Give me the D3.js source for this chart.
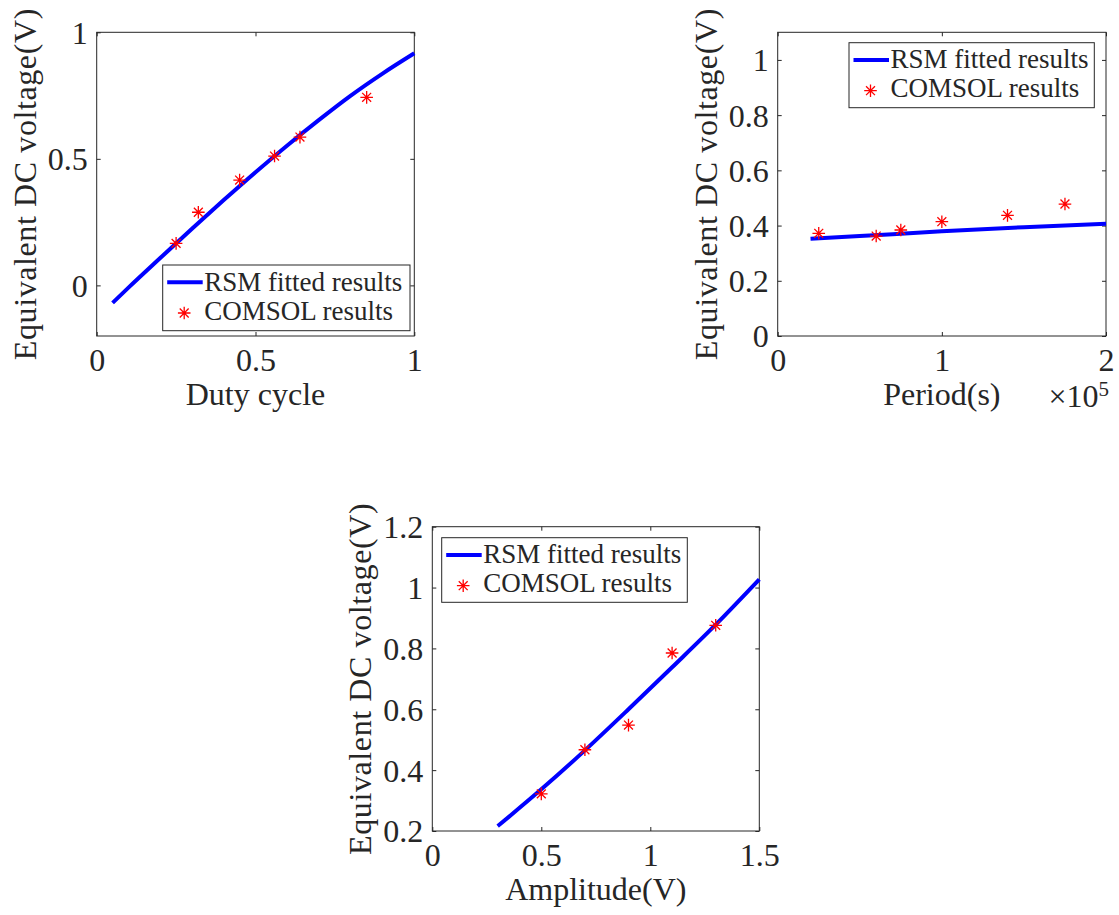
<!DOCTYPE html>
<html>
<head>
<meta charset="utf-8">
<script src="https://cdn.jsdelivr.net/npm/d3@7"></script>
<style>
  html, body { margin: 0; padding: 0; background: #ffffff; }
  svg { display: block; }
  text { font-family: "Liberation Serif", "DejaVu Serif", serif; fill: #262626; }
</style>
</head>
<body>
<svg id="chart" width="1119" height="915"></svg>
<script>
// ---------- Data ----------
// Panel 1: Duty cycle
const dutyCurveX = [0.05, 0.1, 0.2, 0.3, 0.4, 0.5, 0.6, 0.7, 0.8, 0.9, 1.0];
const dutyCurveY = [-0.069, -0.009, 0.108, 0.224, 0.337, 0.447, 0.553, 0.654, 0.75, 0.837, 0.917];
const dutyPointsX = [0.25, 0.32, 0.45, 0.56, 0.64, 0.85];
const dutyPointsY = [0.166, 0.289, 0.416, 0.511, 0.586, 0.743];
const dutyXTicks = [0, 0.5, 1];
const dutyYTicks = [0, 0.5, 1];

// Panel 2: Period
const periodCurveX = [20000, 50000, 100000, 150000, 200000];
const periodCurveY = [0.352, 0.362, 0.379, 0.394, 0.407];
const periodPointsX = [25000, 60000, 75000, 100000, 140000, 175000];
const periodPointsY = [0.372, 0.362, 0.384, 0.414, 0.437, 0.478];
const periodXTicks = [0, 100000, 200000];
const periodXTickLabels = ["0", "1", "2"];
const periodYTicks = [0, 0.2, 0.4, 0.6, 0.8, 1];

// Panel 3: Amplitude
const ampCurveX = [0.3, 0.5, 0.7, 0.9, 1.1, 1.3, 1.5];
const ampCurveY = [0.216, 0.337, 0.465, 0.600, 0.738, 0.878, 1.027];
const ampPointsX = [0.5, 0.7, 0.9, 1.1, 1.3];
const ampPointsY = [0.322, 0.467, 0.548, 0.785, 0.876];
const ampXTicks = [0, 0.5, 1, 1.5];
const ampYTicks = [0.2, 0.4, 0.6, 0.8, 1, 1.2];

const seriesNames = ["RSM fitted results", "COMSOL results"];
const yLabelText = "Equivalent DC voltage(V)";

// ---------- Styles ----------
const FONT = '"Liberation Serif", "DejaVu Serif", serif';
const AXIS_COLOR = "#262626";
const LINE_COLOR = "#0000ff";
const MARK_COLOR = "#ff0000";
const AXIS_FONT = 32;
const LEGEND_FONT = 27;
const TICK_LEN = 4;

const svg = d3.select("#chart");

function asterisk(g, cx, cy, r) {
  const d = r * Math.SQRT1_2;
  const p = d3.path();
  p.moveTo(cx - r, cy); p.lineTo(cx + r, cy);
  p.moveTo(cx, cy - r); p.lineTo(cx, cy + r);
  p.moveTo(cx - d, cy - d); p.lineTo(cx + d, cy + d);
  p.moveTo(cx - d, cy + d); p.lineTo(cx + d, cy - d);
  g.append("path").attr("d", p.toString())
    .attr("stroke", MARK_COLOR).attr("stroke-width", 1.3).attr("fill", "none");
}

function panel(cfg) {
  const g = svg.append("g").attr("font-family", FONT);
  const x = d3.scaleLinear().domain(cfg.xDomain).range([cfg.left, cfg.right]);
  const y = d3.scaleLinear().domain(cfg.yDomain).range([cfg.bottom, cfg.top]);

  const fmt = v => String(v);
  const xAxisB = d3.axisBottom(x).tickValues(cfg.xTicks).tickSize(-TICK_LEN).tickPadding(0)
    .tickFormat((d, i) => cfg.xTickLabels ? cfg.xTickLabels[i] : fmt(d));
  const xAxisT = d3.axisTop(x).tickValues(cfg.xTicks).tickSize(-TICK_LEN).tickFormat("");
  const yAxisL = d3.axisLeft(y).tickValues(cfg.yTicks).tickSize(-TICK_LEN).tickPadding(0).tickFormat(fmt);
  const yAxisR = d3.axisRight(y).tickValues(cfg.yTicks).tickSize(-TICK_LEN).tickFormat("");

  const gxb = g.append("g").attr("transform", `translate(0,${cfg.bottom})`).call(xAxisB);
  const gxt = g.append("g").attr("transform", `translate(0,${cfg.top})`).call(xAxisT);
  const gyl = g.append("g").attr("transform", `translate(${cfg.left},0)`).call(yAxisL);
  const gyr = g.append("g").attr("transform", `translate(${cfg.right},0)`).call(yAxisR);
  [gxb, gxt, gyl, gyr].forEach(a => {
    a.attr("font-family", FONT).attr("font-size", AXIS_FONT);
    a.select(".domain").remove();
    a.selectAll(".tick line").attr("stroke", AXIS_COLOR).attr("stroke-width", 1);
    a.selectAll("text").attr("fill", AXIS_COLOR).style("font-family", FONT)
      .attr("font-size", AXIS_FONT);
  });
  gxb.selectAll(".tick text").attr("y", 35).attr("dy", null);
  gyl.selectAll(".tick text").attr("x", -9).attr("dy", "0.34em");

  // box
  g.append("rect").attr("x", cfg.left).attr("y", cfg.top)
    .attr("width", cfg.right - cfg.left).attr("height", cfg.bottom - cfg.top)
    .attr("fill", "none").attr("stroke", AXIS_COLOR).attr("stroke-width", 1);

  // fitted curve
  const pts = cfg.curveX.map((v, i) => [v, cfg.curveY[i]]);
  const line = d3.line().x(d => x(d[0])).y(d => y(d[1])).curve(d3.curveMonotoneX);
  g.append("path").attr("d", line(pts)).attr("fill", "none")
    .attr("stroke", LINE_COLOR).attr("stroke-width", 4);

  // COMSOL points
  const mg = g.append("g");
  cfg.pointsX.forEach((v, i) => asterisk(mg, x(v), y(cfg.pointsY[i]), 6.3));

  // x label
  g.append("text").attr("x", (cfg.left + cfg.right) / 2).attr("y", cfg.bottom + 69)
    .attr("text-anchor", "middle").attr("font-size", AXIS_FONT).text(cfg.xLabel);
  // y label
  const yc = (cfg.top + cfg.bottom) / 2;
  g.append("text").attr("transform", `translate(${cfg.left - 61},${yc}) rotate(-90)`)
    .attr("text-anchor", "middle").attr("font-size", AXIS_FONT)
    .attr("letter-spacing", 0.6).text(yLabelText);

  // legend
  const L = cfg.legend;
  const lg = g.append("g");
  lg.append("rect").attr("x", L.x).attr("y", L.y).attr("width", L.w).attr("height", L.h)
    .attr("fill", "#ffffff").attr("stroke", AXIS_COLOR).attr("stroke-width", 1);
  lg.append("line").attr("x1", L.x + 4.5).attr("x2", L.x + 40)
    .attr("y1", L.y + 17.3).attr("y2", L.y + 17.3)
    .attr("stroke", LINE_COLOR).attr("stroke-width", 4);
  asterisk(lg, L.x + 21.5, L.y + 48, 6.3);
  lg.append("text").attr("x", L.x + 41.5).attr("y", L.y + 25.5)
    .attr("font-size", LEGEND_FONT).text(seriesNames[0]);
  lg.append("text").attr("x", L.x + 41.5).attr("y", L.y + 54.5)
    .attr("font-size", LEGEND_FONT).text(seriesNames[1]);
  return { g, x, y };
}

panel({
  left: 96.7, right: 414.3, top: 32.3, bottom: 336,
  xDomain: [0, 1], yDomain: [-0.2, 1],
  xTicks: dutyXTicks, yTicks: dutyYTicks,
  curveX: dutyCurveX, curveY: dutyCurveY,
  pointsX: dutyPointsX, pointsY: dutyPointsY,
  xLabel: "Duty cycle",
  legend: { x: 162.7, y: 265, w: 247.3, h: 65.7 }
});

const p2 = panel({
  left: 777.7, right: 1106, top: 32.3, bottom: 336,
  xDomain: [0, 200000], yDomain: [0, 1.1],
  xTicks: periodXTicks, xTickLabels: periodXTickLabels, yTicks: periodYTicks,
  curveX: periodCurveX, curveY: periodCurveY,
  pointsX: periodPointsX, pointsY: periodPointsY,
  xLabel: "Period(s)",
  legend: { x: 849, y: 42.7, w: 245.3, h: 65 }
});
// exponent label for period axis
const expText = p2.g.append("text").attr("x", 1109).attr("y", 407)
  .attr("text-anchor", "end").attr("font-size", AXIS_FONT);
expText.append("tspan").text("\u00d710");
expText.append("tspan").attr("font-size", 21).attr("dy", -11).text("5");

panel({
  left: 432.3, right: 759.3, top: 526.7, bottom: 831,
  xDomain: [0, 1.5], yDomain: [0.2, 1.2],
  xTicks: ampXTicks, yTicks: ampYTicks,
  curveX: ampCurveX, curveY: ampCurveY,
  pointsX: ampPointsX, pointsY: ampPointsY,
  xLabel: "Amplitude(V)",
  legend: { x: 441.7, y: 537.7, w: 245.6, h: 64.6 }
});
</script>
</body>
</html>
